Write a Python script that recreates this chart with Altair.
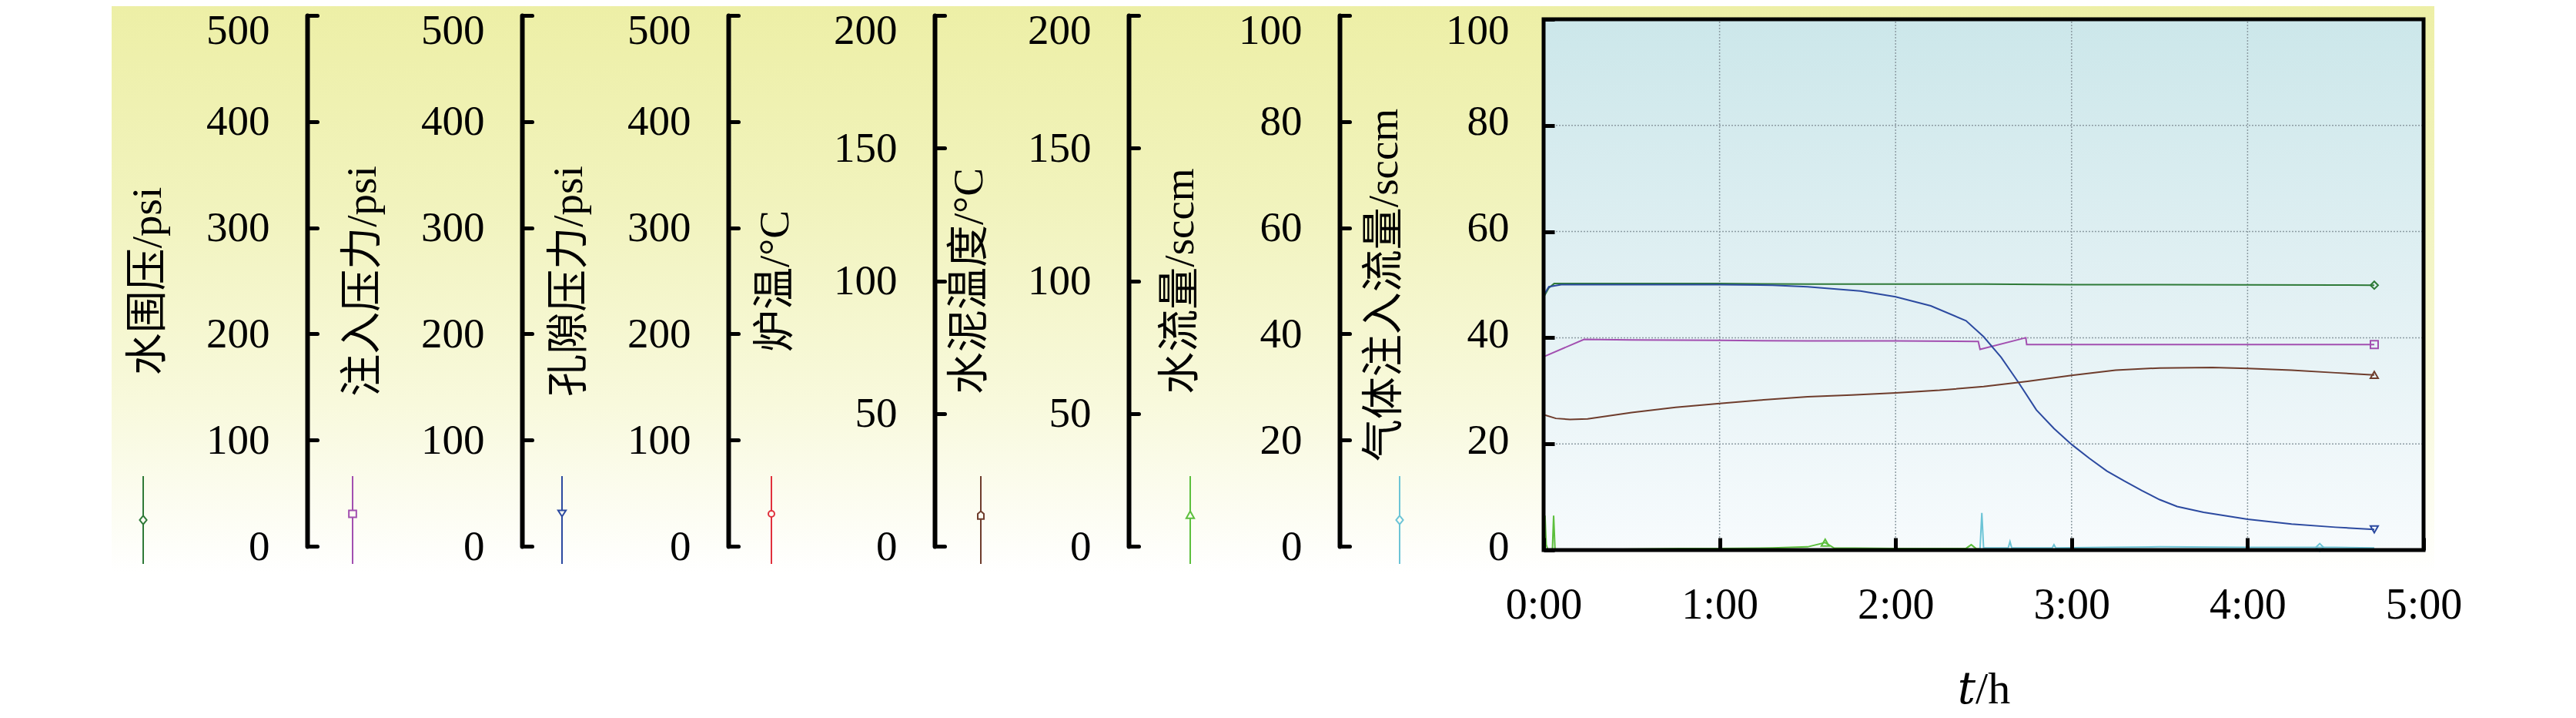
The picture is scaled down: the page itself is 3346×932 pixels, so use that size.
import altair as alt
import pandas as pd

FONT = "Liberation Serif, Noto Sans CJK SC"
FONT_T = "Liberation Serif, DejaVu Serif, Noto Sans CJK SC"

# ---------------- data ----------------
series_names = ["水围压", "注入压力", "孔隙压力", "炉温", "水泥温度", "水流量", "气体注入流量"]
axis_titles = ["水围压/psi", "注入压力/psi", "孔隙压力/psi", "炉温/°C", "水泥温度/°C", "水流量/sccm", "气体注入流量/sccm"]
axis_max = [500, 500, 500, 200, 200, 100, 100]
axis_ticks = [
    [0, 100, 200, 300, 400, 500],
    [0, 100, 200, 300, 400, 500],
    [0, 100, 200, 300, 400, 500],
    [0, 50, 100, 150, 200],
    [0, 50, 100, 150, 200],
    [0, 20, 40, 60, 80, 100],
    [0, 20, 40, 60, 80, 100],
]
colors = ["#2f7a38", "#a24fb0", "#2c4aa0", "#e0303c", "#6e3c2c", "#5cbf3c", "#6cc4d6"]
time_ticks = [0, 1, 2, 3, 4, 5]
grid_t = [1, 2, 3, 4]
grid_v = [20, 40, 60, 80]

# 水围压 (psi)
t_wc = [0, 0.03, 0.06, 0.5, 1.0, 1.5, 2.0, 2.5, 3.0, 3.5, 4.0, 4.5, 4.72]
v_wc = [238, 247, 251, 251, 251, 250.5, 250.5, 250.5, 250, 250, 249.8, 249.6, 249.5]
# 注入压力 (psi)
t_inj = [0, 0.23, 0.5, 1.0, 1.5, 2.0, 2.47, 2.48, 2.74, 2.745, 3.0, 3.5, 4.0, 4.5, 4.72]
v_inj = [182, 198.5, 198, 197.5, 197, 197, 196.5, 189, 200, 193.5, 193.5, 193.5, 193.5, 193.5, 193.5]
# 孔隙压力 (psi)
t_pore = [0, 0.03, 0.1, 0.5, 1.0, 1.3, 1.5, 1.8, 2.0, 2.2, 2.4, 2.5, 2.6, 2.7, 2.8, 2.9,
          3.0, 3.1, 3.2, 3.3, 3.4, 3.5, 3.6, 3.75, 4.0, 4.25, 4.5, 4.72]
v_pore = [240, 248, 250, 250, 250, 249.5, 248, 244, 238.5, 230, 216, 201, 181.5, 157.5, 132, 114.5,
          99.5, 86.5, 74.5, 65, 56, 47.5, 41, 35.5, 29, 24.5, 21.5, 19.5]
# 炉温 (°C) - no visible curve in the figure
t_furn = []
v_furn = []
# 水泥温度 (°C)
t_cem = [0, 0.07, 0.15, 0.25, 0.5, 0.75, 1.0, 1.25, 1.5, 1.75, 2.0, 2.25, 2.5, 2.75,
         3.0, 3.25, 3.5, 3.8, 4.0, 4.25, 4.5, 4.72]
v_cem = [51, 49.6, 49.2, 49.4, 51.8, 53.8, 55.2, 56.6, 57.8, 58.4, 59.2, 60.2, 61.6, 63.6,
         65.8, 67.8, 68.6, 68.8, 68.4, 67.8, 66.8, 66]
# 水流量 (sccm)
t_wf = [0, 0.008, 0.015, 0.025, 0.05, 0.057, 0.065, 0.08, 0.77, 1.0, 1.3, 1.5, 1.6, 1.65,
        2.0, 2.4, 2.43, 2.46, 2.48]
v_wf = [0, 6.5, 1.0, 0, 0, 6.5, 0, 0, 0.3, 0.3, 0.4, 0.6, 1.4, 0.4, 0.3, 0.3, 1.0, 0.2, 0.2]
# 气体注入流量 (sccm)
t_gas = [2.48, 2.49, 2.5, 2.64, 2.65, 2.66, 2.89, 2.9, 2.91, 3.2, 3.5, 4.0, 4.41, 4.5, 4.72]
v_gas = [0.3, 7.0, 0.4, 0.4, 1.6, 0.4, 0.4, 1.0, 0.4, 0.5, 0.6, 0.5, 0.5, 0.5, 0.4]

series_t = [t_wc, t_inj, t_pore, t_furn, t_cem, t_wf, t_gas]
series_v = [v_wc, v_inj, v_pore, v_furn, v_cem, v_wf, v_gas]
marker_t = [4.72, 4.72, 4.72, None, 4.72, 1.6, 4.41]
marker_shape = ["diamond", "square", "triangle-down", "circle", "triangle-up", "triangle-up", "diamond"]

# legend symbols: vertical line with a small open marker (unit box -1..1)
legend_paths = [
    "M0,-1V-0.1M0,0.1V1M0,-0.1L0.08,0L0,0.1L-0.08,0Z",
    "M0,-1V-0.22M0,-0.06V1M-0.085,-0.22H0.085V-0.06H-0.085Z",
    "M0,-1V-0.22M0,-0.08V1M-0.09,-0.22H0.09L0,-0.08Z",
    "M0,-1V-0.21M0,-0.07V1M0,-0.21A0.07,0.07 0 1,1 0,-0.07A0.07,0.07 0 1,1 0,-0.21Z",
    "M0,-1V-0.2M0,-0.02V1M0,-0.2L0.07,-0.14V-0.02H-0.07V-0.14Z",
    "M0,-1V-0.2M0,-0.04V1M0,-0.2L0.09,-0.04H-0.09Z",
    "M0,-1V-0.1M0,0.1V1M0,-0.1L0.08,0L0,0.1L-0.08,0Z",
]

rows = []
for name, ts, vs, mt in zip(series_names, series_t, series_v, marker_t):
    for t, v in zip(ts, vs):
        rows.append({"series": name, "t": t, "v": v, "marker": 1 if (mt is not None and t == mt) else 0})
df = pd.DataFrame(rows, columns=["series", "t", "v", "marker"])

# ---------------- layout ----------------
W, H = 1143, 689
PLOT_LEFT = 2005
axis_line_x = [399, 678, 946, 1214, 1466, 1740, 2005]

xscale = alt.Scale(domain=[0, 5], nice=False, zero=False)
xaxis = alt.Axis(
    orient="top", offset=-H, values=time_ticks, labelExpr="datum.value + ':00'",
    tickSize=16, tickWidth=5, tickColor="black", domain=False, grid=False,
    labelFont=FONT, labelFontSize=56, labelColor="black", labelPadding=-87,
    labelBaseline="middle", labelFlush=False,
    title="𝑡/h", titleFont=FONT_T, titleFontSize=58, titleFontWeight="normal",
    titleColor="black", titleY=181, titleBaseline="middle", zindex=1,
)
X = alt.X("t:Q", scale=xscale, axis=xaxis)

one = pd.DataFrame({"k": [0]})
sc100 = alt.Scale(domain=[0, 100], nice=False)

yellow_grad = alt.LinearGradient(
    gradient="linear", x1=0, x2=0, y1=0, y2=1,
    stops=[alt.GradientStop(color="#edefa6", offset=0),
           alt.GradientStop(color="#f1f3bd", offset=0.35),
           alt.GradientStop(color="#f8f9dc", offset=0.7),
           alt.GradientStop(color="#ffffff", offset=1)])
cyan_grad = alt.LinearGradient(
    gradient="linear", x1=0, x2=0, y1=0, y2=1,
    stops=[alt.GradientStop(color="#cce7ea", offset=0),
           alt.GradientStop(color="#e1f0f3", offset=0.5),
           alt.GradientStop(color="#f7fbfd", offset=1)])

yellow_rect = alt.Chart(one).mark_rect(fill=yellow_grad).encode(
    x=alt.value(145 - PLOT_LEFT), x2=alt.value(3162 - PLOT_LEFT),
    y=alt.value(-19), y2=alt.value(720))
cyan_rect = alt.Chart(one).mark_rect(fill=cyan_grad).encode(
    x=alt.XDatum(0, scale=xscale, axis=xaxis), x2=alt.datum(5),
    y=alt.YDatum(0, scale=sc100, axis=None), y2=alt.datum(100))
vgrid = alt.Chart(pd.DataFrame({"g": grid_t})).mark_rule(
    color="#8d9ca3", strokeWidth=1.5, strokeDash=[2, 2]).encode(
    x=alt.X("g:Q", scale=xscale, axis=xaxis),
    y=alt.YDatum(0, scale=sc100, axis=None), y2=alt.datum(100))
hgrid = alt.Chart(pd.DataFrame({"g": grid_v})).mark_rule(
    color="#8d9ca3", strokeWidth=1.5, strokeDash=[2, 2]).encode(
    y=alt.Y("g:Q", scale=sc100, axis=None),
    x=alt.XDatum(0, scale=xscale, axis=xaxis), x2=alt.datum(5))
bg = alt.layer(yellow_rect, cyan_rect, vgrid, hgrid)

children = [bg]
for i, name in enumerate(series_names):
    main = i == len(series_names) - 1
    top = axis_max[i]
    if main:
        ax_kw = dict(tickSize=14, tickCap="butt", domain=False, position=0,
                     labelPadding=-(45 + 14),
                     labelOffset={"condition": {"test": f"datum.value == {top}", "value": 14}, "value": -5})
    else:
        ax_kw = dict(tickSize=13, tickCap="round", domain=True, domainWidth=6,
                     domainColor="black", domainCap="round", position=-5,
                     labelPadding=-(49 + 13),
                     labelOffset={"condition": {"test": f"datum.value == {top}", "value": 19}, "value": 0})
    yaxis = alt.Axis(
        orient="right", offset=axis_line_x[i] - PLOT_LEFT - W, values=axis_ticks[i],
        tickWidth=5, tickColor="black", grid=False,
        labelFont=FONT, labelFontSize=55, labelColor="black", labelAlign="right",
        labelBaseline="middle",
        title=axis_titles[i], titleFont=FONT, titleFontSize=55, titleFontWeight="normal",
        titleColor="black", titleAngle=270, titleX=-208, titleY=H / 2,
        titleAlign="center", titleBaseline="middle", zindex=1, **ax_kw,
    )
    Y = alt.Y("v:Q", scale=alt.Scale(domain=[0, top], nice=False), axis=yaxis)
    base = alt.Chart(df).transform_filter(alt.datum.series == name)
    line = base.mark_line(color=colors[i], strokeWidth=2).encode(x=X, y=Y)
    pts = base.transform_filter(alt.datum.marker == 1).mark_point(
        shape=marker_shape[i], size=100, filled=False, color=colors[i], strokeWidth=2,
        opacity=1).encode(x=X, y=Y)
    children.append(alt.layer(line, pts))

LEG = alt.Legend(
    orient="none", legendX=-1877, legendY=592, direction="horizontal", columns=7,
    title=None, labelExpr="''", labelOffset=0, symbolSize=12996, symbolStrokeWidth=2,
    symbolOpacity=1, columnPadding=156, padding=0, rowPadding=0, symbolOffset=0,
)
legend_layer = alt.Chart(pd.DataFrame({"series": series_names})).mark_point(
    filled=False, opacity=0, strokeWidth=2).encode(
    color=alt.Color("series:N", scale=alt.Scale(domain=series_names, range=colors), legend=LEG),
    shape=alt.Shape("series:N", scale=alt.Scale(domain=series_names, range=legend_paths), legend=LEG),
)
children.append(legend_layer)

frame = alt.Chart(one).mark_rect(fillOpacity=0, stroke="black", strokeWidth=5).encode(
    x=alt.XDatum(0, scale=xscale, axis=xaxis), x2=alt.datum(5),
    y=alt.YDatum(0, scale=sc100, axis=None), y2=alt.datum(100))
children.append(frame)

chart = alt.layer(*children).resolve_scale(y="independent").properties(
    width=W, height=H,
    autosize=alt.AutoSizeParams(type="none"),
    padding={"left": PLOT_LEFT - 8, "top": 17, "right": 150, "bottom": 215},
    background="white",
).configure_view(stroke=None)

chart.save("out.html", embed_options={"renderer": "svg", "actions": False})
